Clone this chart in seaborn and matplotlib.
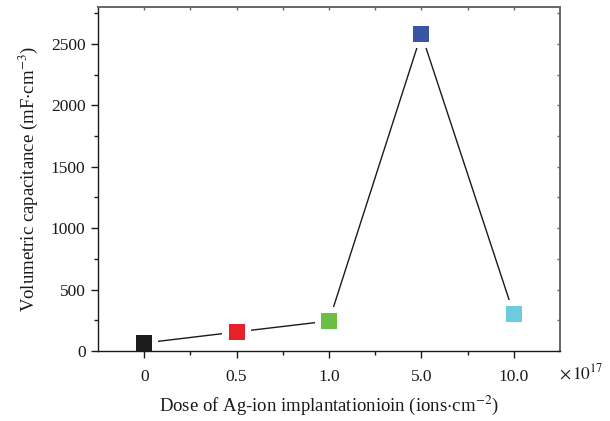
import numpy as np
import pandas as pd
import matplotlib
matplotlib.use("Agg")
import matplotlib.pyplot as plt
import seaborn as sns

doses = ["0", "0.5", "1.0", "5.0", "10.0"]
capacitance = [65, 155, 244, 2581, 301]
colors = ["#1c1c1c", "#e8202a", "#6abf45", "#3a55a4", "#6ccbdc"]

sns.set_style("ticks")
plt.rcParams["font.family"] = ["Liberation Serif", "DejaVu Serif"]
plt.rcParams["mathtext.fontset"] = "stix"

df = pd.DataFrame({"pos": np.arange(len(doses)), "dose": doses, "cap": capacitance})

fig = plt.figure(figsize=(6.10, 4.21), dpi=100)
ax = fig.add_axes([0.1607, 0.1663, 0.918 - 0.1607, 0.9834 - 0.1663])

sns.lineplot(data=df, x="pos", y="cap", color="#1a1a1a", linewidth=1.0, ax=ax, zorder=1)
# white halo to create gaps between line and markers
sns.scatterplot(data=df, x="pos", y="cap", marker="s", s=420, color="white",
                edgecolor="none", linewidth=0, ax=ax, zorder=2, legend=False)
sns.scatterplot(data=df, x="pos", y="cap", hue="dose", palette=colors, marker="s",
                s=130, edgecolor="none", linewidth=0, ax=ax, zorder=3, legend=False)

ax.set_xlim(-0.5, 4.5)
ax.set_ylim(0, 2800)
ax.set_xticks(df["pos"])
ax.set_xticklabels(doses)
ax.set_xticks(np.arange(-0.5, 4.6, 1.0)[1:-1], minor=True)
ax.set_yticks(np.arange(0, 2501, 500))
ax.set_yticks(np.arange(250, 2800, 500), minor=True)

for s in ["left", "bottom"]:
    ax.spines[s].set_color("#1a1a1a")
    ax.spines[s].set_linewidth(1.0)
for s in ["top", "right"]:
    ax.spines[s].set_visible(True)
    ax.spines[s].set_color("#666666")
    ax.spines[s].set_linewidth(1.4)

ax.tick_params(axis="both", which="major", direction="out", length=5, width=1.0,
               color="#1a1a1a", labelsize=12.5, labelcolor="#1a1a1a", pad=4)
ax.tick_params(axis="both", which="minor", direction="out", length=3, width=1.0, color="#1a1a1a")
ax.tick_params(axis="x", which="both", pad=8)

# inward tiny ticks on top and right via secondary axes
top = ax.secondary_xaxis("top")
top.set_xticks(list(df["pos"]) + list(np.arange(0.5, 4.0, 1.0)))
top.tick_params(direction="in", length=2.5, width=1.0, color="#666666", labeltop=False)
top.set_xticklabels([])
top.spines["top"].set_visible(False)
right = ax.secondary_yaxis("right")
right.set_yticks(list(np.arange(0, 2800, 250)))
right.tick_params(direction="in", length=2.5, width=1.0, color="#666666", labelright=False)
right.set_yticklabels([])
right.spines["right"].set_visible(False)

ax.set_xlabel("Dose of Ag-ion implantationioin (ions$\\cdot$cm$^{-2}$)", fontsize=13.5,
              color="#1a1a1a", labelpad=6)
ax.set_ylabel("Volumetric capacitance (mF$\\cdot$cm$^{-3}$)", fontsize=13.5,
              color="#1a1a1a", labelpad=8)

ax.text(0.997, -0.065, "$\\times\\,10^{17}$", transform=ax.transAxes, fontsize=12.5,
        color="#1a1a1a", ha="left", va="center")

fig.savefig("out.png", dpi=100)
